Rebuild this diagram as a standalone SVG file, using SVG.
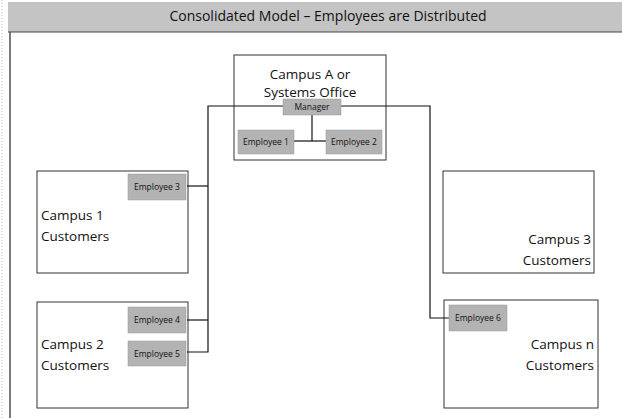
<svg xmlns="http://www.w3.org/2000/svg" width="622" height="418" viewBox="0 0 622 418">
<style>
.box{fill:#fff;stroke:#333;stroke-width:1}
.emp{fill:#b3b3b3;stroke:#999;stroke-width:0.5}
.t{font-family:"Open Sans","Liberation Sans",sans-serif;fill:#111}
.big{font-size:13.5px}
.small{font-size:8.5px}
.conn{fill:none;stroke:#111;stroke-width:1.2}
</style>
<rect width="622" height="418" fill="#fff"/>
<line x1="2" y1="0" x2="2" y2="418" stroke="#bbb" stroke-dasharray="1,2"/>
<g id="frame">
<rect x="8" y="2" width="614" height="30" fill="#c4c4c4"/>
<line x1="10" y1="32" x2="10" y2="418" stroke="#222" stroke-width="1.2"/>
<line x1="8" y1="32" x2="622" y2="32" stroke="#444" stroke-width="1"/>
<text class="t" x="328" y="21" font-size="14" text-anchor="middle">Consolidated Model – Employees are Distributed</text>
</g>
<g id="campusA">
<rect class="box" x="234" y="55" width="152" height="105"/>
<text class="t big" x="310" y="79" text-anchor="middle">Campus A or</text>
<text class="t big" x="310" y="97" text-anchor="middle">Systems Office</text>
</g>
<g id="campus1">
<rect class="box" x="37" y="171" width="151" height="102"/>
<text class="t big" x="41" y="220">Campus 1</text>
<text class="t big" x="41" y="241">Customers</text>
</g>
<g id="campus2">
<rect class="box" x="37" y="302" width="151" height="106"/>
<text class="t big" x="41" y="349">Campus 2</text>
<text class="t big" x="41" y="370">Customers</text>
</g>
<g id="campus3">
<rect class="box" x="443" y="171" width="151" height="102"/>
<text class="t big" x="591" y="244" text-anchor="end">Campus 3</text>
<text class="t big" x="591" y="265" text-anchor="end">Customers</text>
</g>
<g id="campusn">
<rect class="box" x="444" y="300" width="154" height="108"/>
<text class="t big" x="594" y="349" text-anchor="end">Campus n</text>
<text class="t big" x="594" y="370" text-anchor="end">Customers</text>
</g>
<g id="connectors">
<polyline class="conn" points="283,106 208,106 208,352 187,352"/>
<line class="conn" x1="187" y1="186" x2="208" y2="186"/>
<line class="conn" x1="187" y1="320" x2="208" y2="320"/>
<polyline class="conn" points="341,106 430,106 430,318 450,318"/>
<line class="conn" x1="312" y1="114" x2="312" y2="141"/>
<line class="conn" x1="294" y1="141" x2="326" y2="141"/>
</g>
<g id="manager">
<rect class="emp" x="283" y="99" width="58" height="16"/>
<text class="t small" x="312" y="110" text-anchor="middle">Manager</text>
</g>
<g id="employee1">
<rect class="emp" x="238" y="130" width="56" height="24"/>
<text class="t small" x="266" y="145" text-anchor="middle">Employee 1</text>
</g>
<g id="employee2">
<rect class="emp" x="326" y="130" width="56" height="24"/>
<text class="t small" x="354" y="145" text-anchor="middle">Employee 2</text>
</g>
<g id="employee3">
<rect class="emp" x="128" y="174" width="58" height="26"/>
<text class="t small" x="157" y="190" text-anchor="middle">Employee 3</text>
</g>
<g id="employee4">
<rect class="emp" x="128" y="307" width="58" height="26"/>
<text class="t small" x="157" y="323" text-anchor="middle">Employee 4</text>
</g>
<g id="employee5">
<rect class="emp" x="128" y="341" width="58" height="25"/>
<text class="t small" x="157" y="356.5" text-anchor="middle">Employee 5</text>
</g>
<g id="employee6">
<rect class="emp" x="449" y="305" width="58" height="26"/>
<text class="t small" x="478" y="321" text-anchor="middle">Employee 6</text>
</g>
</svg>
